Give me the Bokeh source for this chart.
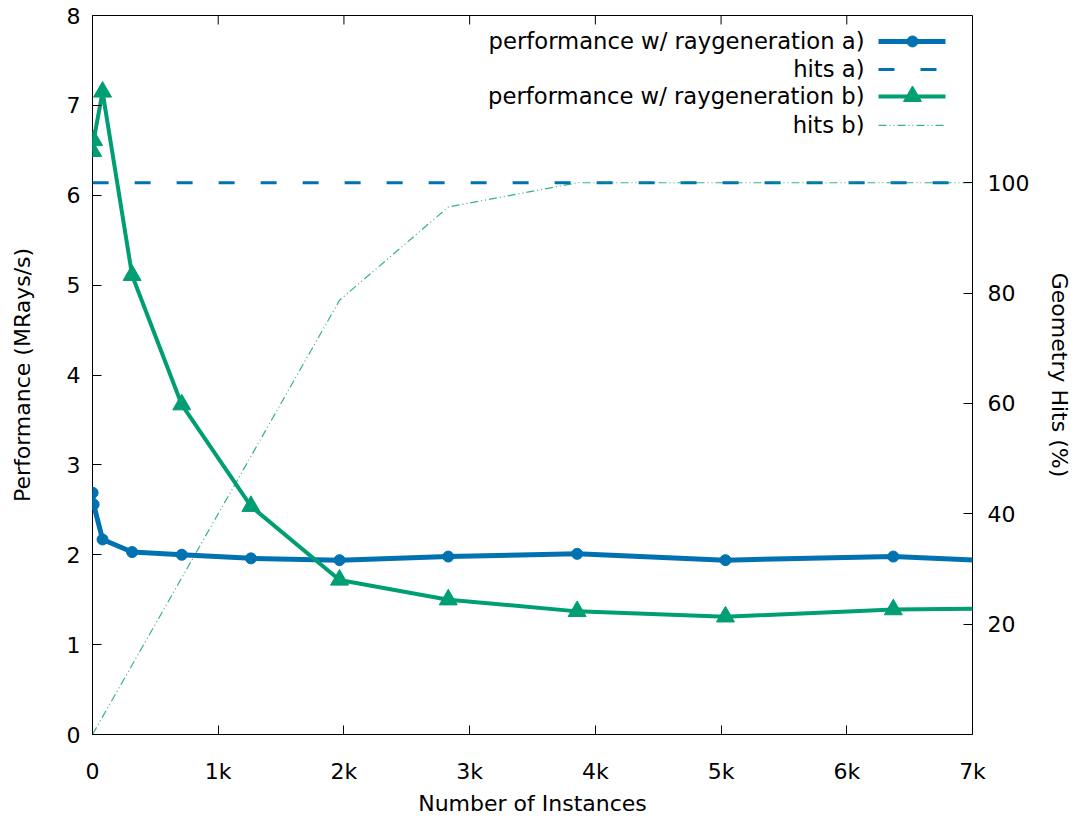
from bokeh.plotting import figure
from bokeh.models import Range1d, LinearAxis, FixedTicker, Label
from bokeh.embed import file_html
from bokeh.resources import INLINE

# ---- data ----
instances = [1, 9, 80, 315, 710, 1260, 1965, 2830, 3855, 5035, 6370, 7870]
perf_a = [2.69, 2.56, 2.17, 2.03, 2.00, 1.96, 1.94, 1.98, 2.01, 1.94, 1.98, 1.89]
hits_a = [100, 100, 100, 100, 100, 100, 100, 100, 100, 100, 100, 100]
perf_b = [6.49, 6.61, 7.15, 5.11, 3.67, 2.54, 1.72, 1.50, 1.37, 1.31, 1.39, 1.41]
hits_b = [0.04, 0.36, 3.2, 12.6, 28.4, 50.4, 78.7, 95.6, 100, 100, 100, 100]

x_ticks = [0, 1000, 2000, 3000, 4000, 5000, 6000, 7000]
x_tick_labels = ["0", "1k", "2k", "3k", "4k", "5k", "6k", "7k"]
y_ticks = [0, 1, 2, 3, 4, 5, 6, 7, 8]
y2_ticks = [20, 40, 60, 80, 100]
legend_labels = ["performance w/ raygeneration a)", "hits a)",
                 "performance w/ raygeneration b)", "hits b)"]

BLUE = "#0072b2"
GREEN = "#009e73"
FONT = "DejaVu Sans"
FS = "22px"
LFS = "22.7px"

# ---- layout ----
W, H = 1075, 818
L, R, T, B = 92, 972, 15, 735
XMAX, YMAX = 7000, 8
Y2MAX = (B - T) / ((624 - 182) / 80.0)

p = figure(width=W, height=H, output_backend="svg", toolbar_location=None,
           x_range=Range1d(0, XMAX), y_range=Range1d(0, YMAX),
           min_border_left=L, min_border_right=W - R,
           min_border_top=T, min_border_bottom=H - B)
p.extra_y_ranges = {"hits": Range1d(0, Y2MAX)}
p.grid.visible = False
p.outline_line_color = "black"
p.outline_line_width = 1
p.background_fill_color = "white"
p.border_fill_color = "white"


def style_axis(ax):
    ax.major_tick_in = 9
    ax.major_tick_out = 0
    ax.minor_tick_line_color = None
    ax.major_tick_line_color = "black"
    ax.axis_line_color = None
    ax.major_label_text_font = FONT
    ax.major_label_text_font_size = FS
    ax.major_label_text_color = "black"
    ax.axis_label_text_font = FONT
    ax.axis_label_text_font_size = FS
    ax.axis_label_text_font_style = "normal"
    ax.axis_label_text_color = "black"


xa = p.xaxis[0]
style_axis(xa)
xa.ticker = FixedTicker(ticks=x_ticks)
xa.major_label_overrides = dict(zip(x_ticks, x_tick_labels))
xa.axis_label = "Number of Instances"
xa.major_label_standoff = 24
xa.axis_label_standoff = 4

ya = p.yaxis[0]
style_axis(ya)
ya.ticker = FixedTicker(ticks=y_ticks)
ya.axis_label = "Performance (MRays/s)"
ya.major_label_standoff = 12
ya.axis_label_standoff = 29

y2 = LinearAxis(y_range_name="hits", axis_label="Geometry Hits (%)")
style_axis(y2)
y2.ticker = FixedTicker(ticks=y2_ticks)
y2.major_label_standoff = 15
y2.axis_label_standoff = 15
p.add_layout(y2, "right")

# mirrored x ticks on the top border
tick_len = 9 / (B - T) * YMAX
p.segment(x0=x_ticks, y0=[YMAX] * len(x_ticks), x1=x_ticks,
          y1=[YMAX - tick_len] * len(x_ticks), color="black", line_width=1)

# ---- data series ----
p.line(instances, hits_a, y_range_name="hits", color=BLUE, line_width=3,
       line_dash="16 26")
p.line(instances, hits_b, y_range_name="hits", color=GREEN, line_width=1.2,
       line_alpha=0.8, line_dash="8 3 1 3 1 3")
p.line(instances, perf_a, color=BLUE, line_width=5, line_join="round")
p.scatter(instances, perf_a, marker="circle", size=11, color=BLUE)
p.line(instances, perf_b, color=GREEN, line_width=4, line_join="round")
p.scatter(instances, perf_b, marker="triangle", size=18, color=GREEN)

# ---- manual legend (text left, sample right) ----
def dx(px):
    return (px - L) / (R - L) * XMAX


def dy(py):
    return (B - py) / (B - T) * YMAX


rows = [41, 69, 96, 125]
x0, x1, xm, xt = 878, 945, 912, 864
styles = [
    dict(color=BLUE, line_width=5),
    dict(color=BLUE, line_width=3, line_dash="16 26"),
    dict(color=GREEN, line_width=4),
    dict(color=GREEN, line_width=1.2, line_alpha=0.8, line_dash="8 3 1 3 1 3"),
]
for i, (lab, ry) in enumerate(zip(legend_labels, rows)):
    p.add_layout(Label(x=dx(xt), y=dy(ry), text=lab, text_align="right",
                       text_baseline="middle", text_font=FONT,
                       text_font_size=LFS, text_color="black"))
    p.line([dx(x0), dx(x1)], [dy(ry), dy(ry)], **styles[i])
p.scatter([dx(xm)], [dy(rows[0])], marker="circle", size=11, color=BLUE)
p.scatter([dx(xm)], [dy(rows[2])], marker="triangle", size=18, color=GREEN)

open("out.html", "w").write(file_html(p, INLINE))
